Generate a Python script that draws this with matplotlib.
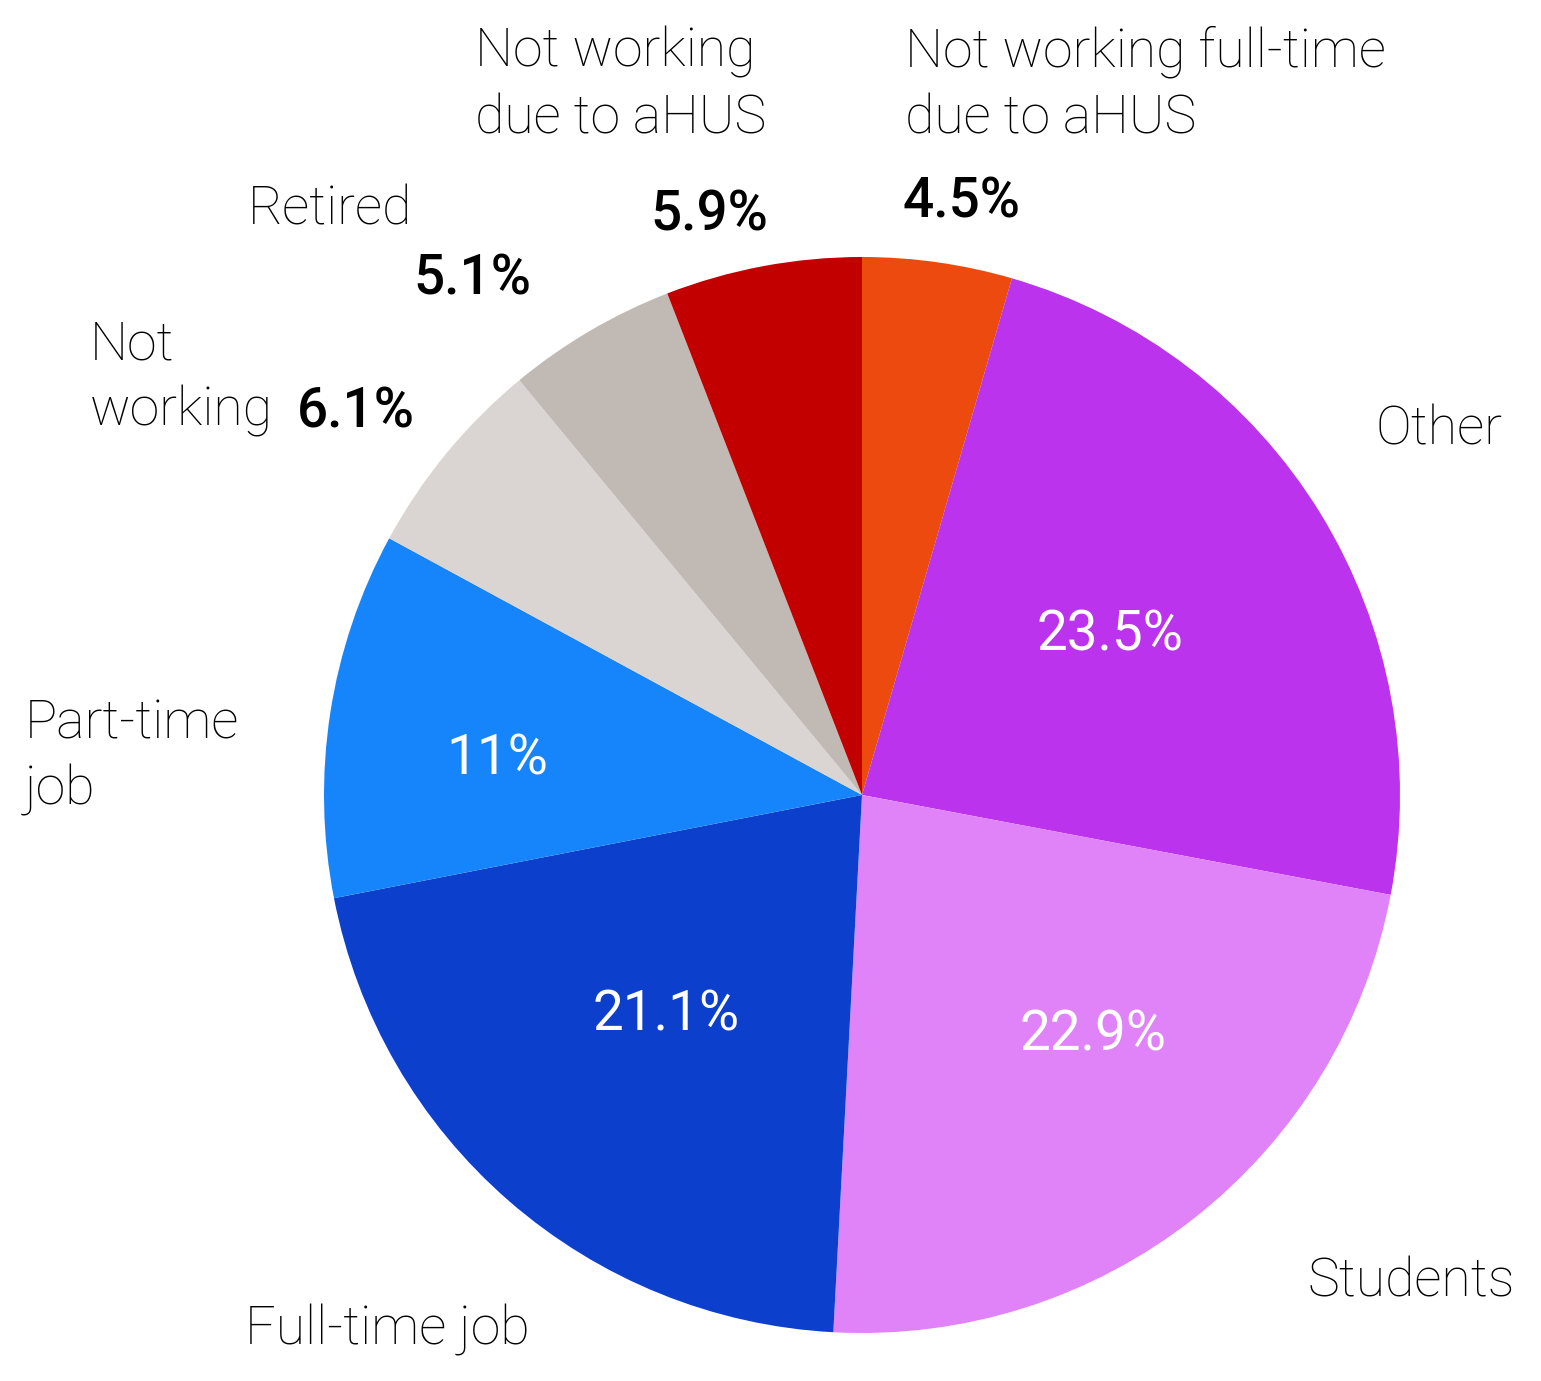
import matplotlib.pyplot as plt

# Datos
categorias = ['Not working full-time\ndue to aHUS', 'Other', 'Students', 'Full-time job',
              'Part-time\njob', 'Not\nworking', 'Retired', 'Not working\ndue to aHUS']
valores = [4.5, 23.5, 22.9, 21.1, 11, 6.1, 5.1, 5.9]
etiquetas_pct = ['4.5%', '23.5%', '22.9%', '21.1%', '11%', '6.1%', '5.1%', '5.9%']
colores = ['#EC4A0E', '#BB33EC', '#E083F9', '#0C3FCC', '#1685FC', '#DAD5D2', '#C0B9B4', '#C20000']

W, H = 1541, 1381
plt.rcParams['font.family'] = ['Roboto', 'DejaVu Sans']

fig = plt.figure(figsize=(W / 100, H / 100), dpi=100)
ax = fig.add_axes([0, 0, 1, 1])

ax.pie(valores, colors=colores, startangle=90, counterclock=False,
       center=(862, H - 795), radius=538, wedgeprops={'linewidth': 0})
ax.set_xlim(0, W)
ax.set_ylim(0, H)
ax.set_aspect('equal')
ax.axis('off')

def txt(x, y, s, size=38.6, weight='light', **kw):
    # y medido desde arriba, como en la imagen
    ax.text(x, H - y, s, fontsize=size, fontweight=weight, linespacing=1.36, **kw)

# Etiquetas de categoria (fuera del pastel)
txt(905, 85, categorias[0], ha='left', va='center')
txt(1376, 430, categorias[1], ha='left', va='center')
txt(1308, 1282, categorias[2], ha='left', va='center')
txt(245, 1330, categorias[3], ha='left', va='center')
txt(25, 757, categorias[4], ha='left', va='center')
txt(90, 378, categorias[5], ha='left', va='center')
txt(248, 210, categorias[6], ha='left', va='center')
txt(475, 85, categorias[7], ha='left', va='center')

# Porcentajes en negrita (fuera)
txt(903, 202, etiquetas_pct[0], size=39.5, weight='medium', ha='left', va='center')
txt(297, 412, etiquetas_pct[5], size=39.5, weight='medium', ha='left', va='center')
txt(413, 279, etiquetas_pct[6], size=39.5, weight='medium', ha='left', va='center')
txt(768, 215, etiquetas_pct[7], size=39.5, weight='medium', ha='right', va='center')

# Porcentajes dentro
txt(1110, 635, etiquetas_pct[1], size=39.5, weight='normal', ha='center', va='center', color='white')
txt(1093, 1035, etiquetas_pct[2], size=39.5, weight='normal', ha='center', va='center', color='white')
txt(666, 1015, etiquetas_pct[3], size=39.5, weight='normal', ha='center', va='center', color='white')
txt(497, 759, etiquetas_pct[4], size=39.5, weight='normal', ha='center', va='center', color='white')

fig.savefig('out.png', dpi=100, facecolor='white')
